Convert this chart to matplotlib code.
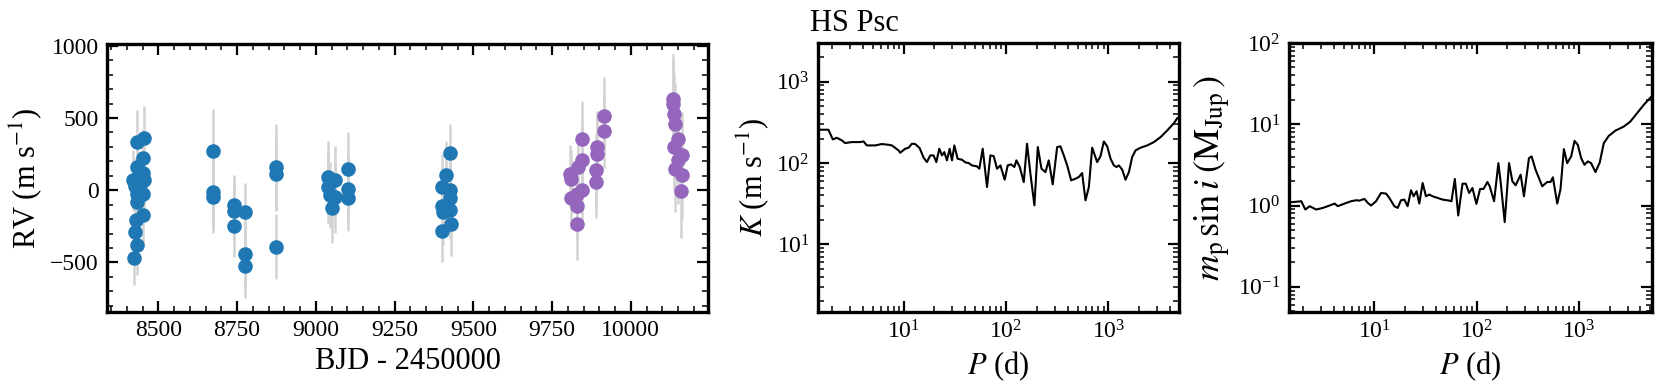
import numpy as np
import matplotlib
matplotlib.use("Agg")
import matplotlib.pyplot as plt
from matplotlib.ticker import MultipleLocator, LogLocator, NullFormatter

# ---------------- data ----------------
# instrument 1 (blue)
bjd_1 = [8433, 8456, 8450, 8433, 8452, 8421, 8456, 8426, 8442, 8452, 8431, 8433, 8450, 8429, 8426, 8431, 8423,
         8675, 8675, 8675,
         8740, 8740, 8740, 8775, 8775, 8775,
         8873, 8873, 8873,
         9040, 9061, 9040, 9045, 9061, 9050, 9103, 9103, 9103,
         9426, 9412, 9400, 9426, 9426, 9400, 9426, 9405, 9428, 9400]
rv_1 = [334, 361, 223, 161, 120, 69, 69, 30, 35, -23, -23, -80, -172, -207, -292, -379, -466,
        271, -11, -50,
        -103, -145, -246, -149, -443, -524,
        161, 111, -391,
        92, 69, 23, -34, -46, -126, 150, 7, -53,
        260, 104, 23, 0, -57, -108, -138, -149, -236, -283]
err_1 = [218, 225, 200, 190, 200, 210, 200, 190, 200, 200, 190, 200, 200, 190, 200, 207, 189,
         292, 250, 248,
         211, 210, 214, 200, 230, 225,
         300, 255, 225,
         250, 240, 250, 230, 250, 240, 250, 230, 230,
         200, 240, 230, 220, 230, 240, 200, 230, 220, 212]

# instrument 2 (purple)
bjd_2 = [9846, 9846, 9833, 9807, 9809, 9844, 9828, 9809, 9830, 9830, 9892, 9892, 9890, 9890, 9915, 9915,
         10135, 10135, 10137, 10140, 10151, 10137, 10162, 10140, 10162, 10160, 10151]
rv_2 = [356, 212, 161, 115, 76, 0, -23, -57, -108, -237, 299, 253, 138, 58, 513, 407,
        632, 598, 529, 460, 357, 299, 242, 150, 104, -7, 207]
err_2 = [260, 240, 230, 200, 200, 220, 220, 210, 230, 246, 250, 250, 253, 253, 269, 250,
         310, 300, 280, 280, 300, 300, 300, 300, 300, 326, 300]

# detection limits: log10 period (d) and log10 K (m/s)
logP_K = [0.185, 0.266, 0.309, 0.348, 0.397, 0.429, 0.495, 0.576, 0.609, 0.641, 0.723, 0.788, 0.853, 0.886,
          0.951, 0.967, 1.016, 1.049, 1.082, 1.114, 1.157, 1.196, 1.228, 1.261, 1.293, 1.320, 1.349, 1.375,
          1.398, 1.424, 1.450, 1.473, 1.496, 1.528, 1.571, 1.603, 1.636, 1.668, 1.717, 1.740, 1.773, 1.815,
          1.848, 1.880, 1.913, 1.946, 1.988, 2.017, 2.050, 2.082, 2.102, 2.135, 2.174, 2.206, 2.239, 2.278,
          2.311, 2.347, 2.386, 2.418, 2.457, 2.500, 2.532, 2.565, 2.598, 2.637, 2.679, 2.712, 2.744, 2.777,
          2.810, 2.842, 2.891, 2.924, 2.956, 2.989, 3.022, 3.054, 3.080, 3.103, 3.136, 3.168, 3.201, 3.233,
          3.266, 3.315, 3.380, 3.445, 3.511, 3.576, 3.641, 3.674]
logK = [2.410, 2.410, 2.291, 2.311, 2.279, 2.246, 2.258, 2.258, 2.266, 2.217, 2.217, 2.234, 2.225, 2.217,
        2.156, 2.127, 2.176, 2.189, 2.238, 2.234, 2.184, 2.066, 2.012, 2.094, 2.094, 2.012, 2.176, 2.094,
        2.135, 2.033, 2.176, 2.033, 2.217, 2.053, 2.041, 2.008, 2.000, 1.971, 1.959, 1.930, 2.176, 1.705,
        2.094, 2.086, 1.930, 1.971, 1.795, 1.971, 1.984, 1.951, 2.033, 1.951, 1.766, 2.238, 1.869, 1.480,
        2.197, 1.930, 1.889, 2.033, 1.738, 2.197, 2.205, 2.094, 1.971, 1.787, 1.807, 1.828, 1.877, 1.541,
        1.705, 2.189, 2.012, 2.086, 2.266, 2.205, 2.053, 1.971, 1.951, 1.971, 1.918, 1.795, 1.889, 2.074,
        2.156, 2.189, 2.217, 2.258, 2.320, 2.402, 2.492, 2.553]

# detection limits: log10 period (d) and log10 m sin i (M_Jup)
logP_M = [0.187, 0.285, 0.324, 0.366, 0.431, 0.496, 0.561, 0.610, 0.642, 0.707, 0.772, 0.821, 0.854, 0.902,
          0.935, 0.967, 1.016, 1.065, 1.114, 1.146, 1.195, 1.228, 1.260, 1.293, 1.325, 1.358, 1.384, 1.413,
          1.439, 1.472, 1.504, 1.537, 1.569, 1.618, 1.667, 1.732, 1.754, 1.787, 1.820, 1.862, 1.894, 1.927,
          1.959, 1.998, 2.034, 2.067, 2.106, 2.128, 2.171, 2.213, 2.236, 2.275, 2.317, 2.350, 2.382, 2.431,
          2.463, 2.512, 2.538, 2.577, 2.642, 2.691, 2.724, 2.746, 2.789, 2.821, 2.854, 2.886, 2.925, 2.958,
          2.990, 3.023, 3.055, 3.088, 3.120, 3.163, 3.205, 3.244, 3.293, 3.358, 3.439, 3.504, 3.569, 3.634,
          3.715]
logM = [0.041, 0.053, -0.049, -0.008, -0.049, -0.029, 0.000, 0.024, -0.008, 0.024, 0.053, 0.065, 0.061, 0.082,
        0.033, 0.000, 0.053, 0.155, 0.147, 0.094, -0.008, -0.029, 0.065, 0.073, -0.008, 0.188, 0.114, 0.176,
        0.024, 0.278, 0.114, 0.135, 0.114, 0.094, 0.073, 0.061, 0.053, 0.327, -0.122, 0.269, 0.269, 0.155,
        0.216, 0.020, 0.204, 0.204, 0.290, 0.237, 0.053, 0.522, 0.278, -0.204, 0.522, 0.298, 0.249, 0.380,
        0.114, 0.584, 0.604, 0.441, 0.237, 0.290, 0.290, 0.347, 0.024, 0.204, 0.694, 0.522, 0.604, 0.796,
        0.747, 0.584, 0.502, 0.543, 0.522, 0.412, 0.531, 0.767, 0.857, 0.922, 0.971, 1.033, 1.135, 1.237,
        1.347]

# ---------------- style ----------------
plt.rcParams['font.family'] = ['Liberation Serif', 'DejaVu Serif']
plt.rcParams['mathtext.fontset'] = 'stix'

W, H = 1661, 386
fig = plt.figure(figsize=(W / 100, H / 100), dpi=100)

def px_axes(x0, x1, y0, y1):
    return fig.add_axes([x0 / W, 1 - y1 / H, (x1 - x0) / W, (y1 - y0) / H])

ax1 = px_axes(107, 708, 44, 312)
ax2 = px_axes(818, 1179, 43, 312)
ax3 = px_axes(1289, 1652, 43, 312)

tick_fs = 17
lab_fs = 22

for ax in (ax1, ax2, ax3):
    for s in ax.spines.values():
        s.set_linewidth(2.4)
    ax.tick_params(which='both', direction='in', top=True, right=True, labelsize=tick_fs, pad=6)
    ax.tick_params(which='major', length=8, width=1.6)
    ax.tick_params(which='minor', length=4, width=1.1)

# RV panel
ax1.errorbar(bjd_1, rv_1, yerr=err_1, fmt='none', ecolor='#d3d3d3', elinewidth=1.8, capsize=0, zorder=1)
ax1.errorbar(bjd_2, rv_2, yerr=err_2, fmt='none', ecolor='#d3d3d3', elinewidth=1.8, capsize=0, zorder=1)
ax1.plot(bjd_1, rv_1, 'o', color='#1f77b4', ms=10.5, mec='none', zorder=3)
ax1.plot(bjd_2, rv_2, 'o', color='#9467bd', ms=10.5, mec='none', zorder=3)
ax1.set_xlim(8337, 10245)
ax1.set_ylim(-843, 1012)
ax1.xaxis.set_major_locator(MultipleLocator(250))
ax1.xaxis.set_minor_locator(MultipleLocator(50))
ax1.yaxis.set_major_locator(MultipleLocator(500))
ax1.yaxis.set_minor_locator(MultipleLocator(100))
ax1.set_xlabel('BJD - 2450000', fontsize=lab_fs)
ax1.set_ylabel(r'RV (m s$^{-1}$)', fontsize=lab_fs)

# K panel
ax2.plot(10 ** np.array(logP_K), 10 ** np.array(logK), color='black', lw=1.5)
ax2.set_xscale('log')
ax2.set_yscale('log')
ax2.set_xlim(1.46, 4900)
ax2.set_ylim(1.47, 3000)
ax2.set_xlabel(r'$P$ (d)', fontsize=lab_fs)
ax2.set_ylabel(r'$K$ (m s$^{-1}$)', fontsize=lab_fs)

# m sin i panel
ax3.plot(10 ** np.array(logP_M), 10 ** np.array(logM), color='black', lw=1.5)
ax3.set_xscale('log')
ax3.set_yscale('log')
ax3.set_xlim(1.46, 5200)
ax3.set_ylim(0.049, 100)
ax3.set_xlabel(r'$P$ (d)', fontsize=lab_fs)
ax3.set_ylabel(r'$m_{\rm p}\,\sin i\;(\mathrm{M}_{\rm Jup}\,)$', fontsize=26, labelpad=4)

for ax in (ax2, ax3):
    for axis in (ax.xaxis, ax.yaxis):
        axis.set_major_locator(LogLocator(base=10, numticks=20))
        axis.set_minor_locator(LogLocator(base=10, subs=np.arange(2, 10), numticks=20))
        axis.set_minor_formatter(NullFormatter())

fig.text(810 / W, 1 - 31 / H, 'HS Psc', fontsize=lab_fs, ha='left', va='baseline')

fig.savefig('out.png', dpi=100)
